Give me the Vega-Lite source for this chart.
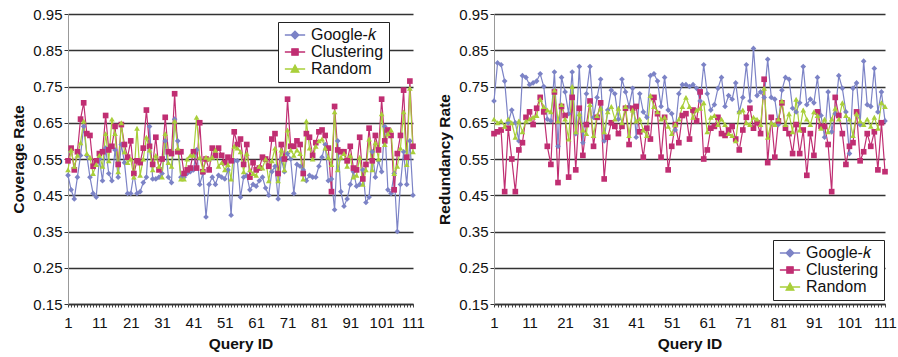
{
"$schema": "https://vega.github.io/schema/vega-lite/v6.json",
"background": "white",
"padding": {"left": 11, "top": 7, "right": 2, "bottom": 3},
"spacing": 12,
"resolve": {"scale": {"color": "independent"}, "legend": {"color": "independent"}},
"config": {
  "view": {"stroke": null},
  "font": "Liberation Sans",
  "axis": {"labelFont": "Liberation Sans", "labelFontSize": 15, "labelColor": "#111", "titleFont": "Liberation Sans", "titleFontSize": 15.5, "titleFontWeight": "bold", "titleColor": "#111"},
  "axisX": {"grid": false, "tickSize": 3, "tickColor": "#444", "domainColor": "#333", "domainWidth": 1.5, "labelPadding": 8, "titlePadding": 6, "labelAngle": 0, "labelOverlap": false},
  "axisY": {"grid": true, "gridColor": "#333", "gridWidth": 1.4, "domainColor": "#999", "tickSize": 4, "tickColor": "#333", "labelPadding": 2, "titlePadding": 6},
  "legend": {"title": null, "orient": "none", "strokeColor": "#222", "fillColor": "white", "padding": 5, "labelFont": "Liberation Sans", "labelFontSize": 16, "labelColor": "#111", "symbolSize": 196, "symbolOffset": 4, "labelOffset": 8, "rowPadding": 1, "symbolStrokeWidth": 1.3}
},
"datasets": {
"cov": [
{"q":1,"m":"G","v":0.505},{"q":2,"m":"G","v":0.465},{"q":3,"m":"G","v":0.44},{"q":4,"m":"G","v":0.50},{"q":5,"m":"G","v":0.56},{"q":6,"m":"G","v":0.64},{"q":7,"m":"G","v":0.56},{"q":8,"m":"G","v":0.50},{"q":9,"m":"G","v":0.455},{"q":10,"m":"G","v":0.445},
{"q":11,"m":"G","v":0.55},{"q":12,"m":"G","v":0.49},{"q":13,"m":"G","v":0.58},{"q":14,"m":"G","v":0.51},{"q":15,"m":"G","v":0.49},{"q":16,"m":"G","v":0.575},{"q":17,"m":"G","v":0.50},{"q":18,"m":"G","v":0.59},{"q":19,"m":"G","v":0.54},{"q":20,"m":"G","v":0.455},
{"q":21,"m":"G","v":0.455},{"q":22,"m":"G","v":0.51},{"q":23,"m":"G","v":0.455},{"q":24,"m":"G","v":0.46},{"q":25,"m":"G","v":0.485},{"q":26,"m":"G","v":0.50},{"q":27,"m":"G","v":0.64},{"q":28,"m":"G","v":0.495},{"q":29,"m":"G","v":0.495},{"q":30,"m":"G","v":0.50},
{"q":31,"m":"G","v":0.51},{"q":32,"m":"G","v":0.60},{"q":33,"m":"G","v":0.50},{"q":34,"m":"G","v":0.485},{"q":35,"m":"G","v":0.66},{"q":36,"m":"G","v":0.60},{"q":37,"m":"G","v":0.50},{"q":38,"m":"G","v":0.50},{"q":39,"m":"G","v":0.51},{"q":40,"m":"G","v":0.515},
{"q":41,"m":"G","v":0.52},{"q":42,"m":"G","v":0.575},{"q":43,"m":"G","v":0.48},{"q":44,"m":"G","v":0.51},{"q":45,"m":"G","v":0.39},{"q":46,"m":"G","v":0.48},{"q":47,"m":"G","v":0.50},{"q":48,"m":"G","v":0.48},{"q":49,"m":"G","v":0.505},{"q":50,"m":"G","v":0.50},
{"q":51,"m":"G","v":0.495},{"q":52,"m":"G","v":0.52},{"q":53,"m":"G","v":0.395},{"q":54,"m":"G","v":0.545},{"q":55,"m":"G","v":0.545},{"q":56,"m":"G","v":0.445},{"q":57,"m":"G","v":0.50},{"q":58,"m":"G","v":0.505},{"q":59,"m":"G","v":0.465},{"q":60,"m":"G","v":0.48},
{"q":61,"m":"G","v":0.475},{"q":62,"m":"G","v":0.49},{"q":63,"m":"G","v":0.50},{"q":64,"m":"G","v":0.47},{"q":65,"m":"G","v":0.45},{"q":66,"m":"G","v":0.515},{"q":67,"m":"G","v":0.53},{"q":68,"m":"G","v":0.44},{"q":69,"m":"G","v":0.55},{"q":70,"m":"G","v":0.515},
{"q":71,"m":"G","v":0.565},{"q":72,"m":"G","v":0.55},{"q":73,"m":"G","v":0.455},{"q":74,"m":"G","v":0.535},{"q":75,"m":"G","v":0.53},{"q":76,"m":"G","v":0.52},{"q":77,"m":"G","v":0.49},{"q":78,"m":"G","v":0.505},{"q":79,"m":"G","v":0.50},{"q":80,"m":"G","v":0.50},
{"q":81,"m":"G","v":0.53},{"q":82,"m":"G","v":0.555},{"q":83,"m":"G","v":0.59},{"q":84,"m":"G","v":0.49},{"q":85,"m":"G","v":0.495},{"q":86,"m":"G","v":0.41},{"q":87,"m":"G","v":0.60},{"q":88,"m":"G","v":0.46},{"q":89,"m":"G","v":0.42},{"q":90,"m":"G","v":0.44},
{"q":91,"m":"G","v":0.48},{"q":92,"m":"G","v":0.515},{"q":93,"m":"G","v":0.475},{"q":94,"m":"G","v":0.48},{"q":95,"m":"G","v":0.52},{"q":96,"m":"G","v":0.43},{"q":97,"m":"G","v":0.445},{"q":98,"m":"G","v":0.57},{"q":99,"m":"G","v":0.50},{"q":100,"m":"G","v":0.545},
{"q":101,"m":"G","v":0.515},{"q":102,"m":"G","v":0.64},{"q":103,"m":"G","v":0.465},{"q":104,"m":"G","v":0.455},{"q":105,"m":"G","v":0.51},{"q":106,"m":"G","v":0.35},{"q":107,"m":"G","v":0.48},{"q":108,"m":"G","v":0.57},{"q":109,"m":"G","v":0.48},{"q":110,"m":"G","v":0.60},{"q":111,"m":"G","v":0.45},
{"q":1,"m":"C","v":0.545},{"q":2,"m":"C","v":0.58},{"q":3,"m":"C","v":0.52},{"q":4,"m":"C","v":0.57},{"q":5,"m":"C","v":0.66},{"q":6,"m":"C","v":0.705},{"q":7,"m":"C","v":0.62},{"q":8,"m":"C","v":0.615},{"q":9,"m":"C","v":0.53},{"q":10,"m":"C","v":0.545},
{"q":11,"m":"C","v":0.565},{"q":12,"m":"C","v":0.57},{"q":13,"m":"C","v":0.67},{"q":14,"m":"C","v":0.575},{"q":15,"m":"C","v":0.585},{"q":16,"m":"C","v":0.64},{"q":17,"m":"C","v":0.535},{"q":18,"m":"C","v":0.645},{"q":19,"m":"C","v":0.59},{"q":20,"m":"C","v":0.555},
{"q":21,"m":"C","v":0.60},{"q":22,"m":"C","v":0.51},{"q":23,"m":"C","v":0.545},{"q":24,"m":"C","v":0.54},{"q":25,"m":"C","v":0.58},{"q":26,"m":"C","v":0.685},{"q":27,"m":"C","v":0.585},{"q":28,"m":"C","v":0.535},{"q":29,"m":"C","v":0.61},{"q":30,"m":"C","v":0.52},
{"q":31,"m":"C","v":0.55},{"q":32,"m":"C","v":0.665},{"q":33,"m":"C","v":0.57},{"q":34,"m":"C","v":0.565},{"q":35,"m":"C","v":0.73},{"q":36,"m":"C","v":0.57},{"q":37,"m":"C","v":0.57},{"q":38,"m":"C","v":0.51},{"q":39,"m":"C","v":0.52},{"q":40,"m":"C","v":0.525},
{"q":41,"m":"C","v":0.57},{"q":42,"m":"C","v":0.525},{"q":43,"m":"C","v":0.65},{"q":44,"m":"C","v":0.515},{"q":45,"m":"C","v":0.55},{"q":46,"m":"C","v":0.52},{"q":47,"m":"C","v":0.58},{"q":48,"m":"C","v":0.56},{"q":49,"m":"C","v":0.58},{"q":50,"m":"C","v":0.56},
{"q":51,"m":"C","v":0.54},{"q":52,"m":"C","v":0.555},{"q":53,"m":"C","v":0.545},{"q":54,"m":"C","v":0.625},{"q":55,"m":"C","v":0.59},{"q":56,"m":"C","v":0.605},{"q":57,"m":"C","v":0.535},{"q":58,"m":"C","v":0.59},{"q":59,"m":"C","v":0.50},{"q":60,"m":"C","v":0.54},
{"q":61,"m":"C","v":0.52},{"q":62,"m":"C","v":0.525},{"q":63,"m":"C","v":0.555},{"q":64,"m":"C","v":0.55},{"q":65,"m":"C","v":0.53},{"q":66,"m":"C","v":0.605},{"q":67,"m":"C","v":0.62},{"q":68,"m":"C","v":0.51},{"q":69,"m":"C","v":0.59},{"q":70,"m":"C","v":0.55},
{"q":71,"m":"C","v":0.715},{"q":72,"m":"C","v":0.585},{"q":73,"m":"C","v":0.585},{"q":74,"m":"C","v":0.60},{"q":75,"m":"C","v":0.59},{"q":76,"m":"C","v":0.51},{"q":77,"m":"C","v":0.62},{"q":78,"m":"C","v":0.61},{"q":79,"m":"C","v":0.56},{"q":80,"m":"C","v":0.595},
{"q":81,"m":"C","v":0.625},{"q":82,"m":"C","v":0.63},{"q":83,"m":"C","v":0.615},{"q":84,"m":"C","v":0.58},{"q":85,"m":"C","v":0.46},{"q":86,"m":"C","v":0.695},{"q":87,"m":"C","v":0.575},{"q":88,"m":"C","v":0.57},{"q":89,"m":"C","v":0.57},{"q":90,"m":"C","v":0.545},
{"q":91,"m":"C","v":0.585},{"q":92,"m":"C","v":0.525},{"q":93,"m":"C","v":0.52},{"q":94,"m":"C","v":0.61},{"q":95,"m":"C","v":0.495},{"q":96,"m":"C","v":0.535},{"q":97,"m":"C","v":0.635},{"q":98,"m":"C","v":0.545},{"q":99,"m":"C","v":0.615},{"q":100,"m":"C","v":0.575},
{"q":101,"m":"C","v":0.715},{"q":102,"m":"C","v":0.60},{"q":103,"m":"C","v":0.63},{"q":104,"m":"C","v":0.615},{"q":105,"m":"C","v":0.465},{"q":106,"m":"C","v":0.565},{"q":107,"m":"C","v":0.615},{"q":108,"m":"C","v":0.74},{"q":109,"m":"C","v":0.555},{"q":110,"m":"C","v":0.765},{"q":111,"m":"C","v":0.585},
{"q":1,"m":"R","v":0.52},{"q":2,"m":"R","v":0.575},{"q":3,"m":"R","v":0.53},{"q":4,"m":"R","v":0.56},{"q":5,"m":"R","v":0.595},{"q":6,"m":"R","v":0.655},{"q":7,"m":"R","v":0.565},{"q":8,"m":"R","v":0.555},{"q":9,"m":"R","v":0.51},{"q":10,"m":"R","v":0.535},
{"q":11,"m":"R","v":0.56},{"q":12,"m":"R","v":0.53},{"q":13,"m":"R","v":0.62},{"q":14,"m":"R","v":0.545},{"q":15,"m":"R","v":0.66},{"q":16,"m":"R","v":0.62},{"q":17,"m":"R","v":0.515},{"q":18,"m":"R","v":0.65},{"q":19,"m":"R","v":0.57},{"q":20,"m":"R","v":0.54},
{"q":21,"m":"R","v":0.55},{"q":22,"m":"R","v":0.50},{"q":23,"m":"R","v":0.635},{"q":24,"m":"R","v":0.505},{"q":25,"m":"R","v":0.55},{"q":26,"m":"R","v":0.61},{"q":27,"m":"R","v":0.575},{"q":28,"m":"R","v":0.52},{"q":29,"m":"R","v":0.56},{"q":30,"m":"R","v":0.53},
{"q":31,"m":"R","v":0.50},{"q":32,"m":"R","v":0.62},{"q":33,"m":"R","v":0.54},{"q":34,"m":"R","v":0.53},{"q":35,"m":"R","v":0.655},{"q":36,"m":"R","v":0.58},{"q":37,"m":"R","v":0.495},{"q":38,"m":"R","v":0.495},{"q":39,"m":"R","v":0.55},{"q":40,"m":"R","v":0.56},
{"q":41,"m":"R","v":0.56},{"q":42,"m":"R","v":0.665},{"q":43,"m":"R","v":0.555},{"q":44,"m":"R","v":0.52},{"q":45,"m":"R","v":0.555},{"q":46,"m":"R","v":0.55},{"q":47,"m":"R","v":0.555},{"q":48,"m":"R","v":0.575},{"q":49,"m":"R","v":0.53},{"q":50,"m":"R","v":0.54},
{"q":51,"m":"R","v":0.52},{"q":52,"m":"R","v":0.535},{"q":53,"m":"R","v":0.495},{"q":54,"m":"R","v":0.585},{"q":55,"m":"R","v":0.58},{"q":56,"m":"R","v":0.57},{"q":57,"m":"R","v":0.515},{"q":58,"m":"R","v":0.565},{"q":59,"m":"R","v":0.52},{"q":60,"m":"R","v":0.51},
{"q":61,"m":"R","v":0.505},{"q":62,"m":"R","v":0.53},{"q":63,"m":"R","v":0.525},{"q":64,"m":"R","v":0.55},{"q":65,"m":"R","v":0.49},{"q":66,"m":"R","v":0.545},{"q":67,"m":"R","v":0.58},{"q":68,"m":"R","v":0.49},{"q":69,"m":"R","v":0.575},{"q":70,"m":"R","v":0.52},
{"q":71,"m":"R","v":0.63},{"q":72,"m":"R","v":0.575},{"q":73,"m":"R","v":0.56},{"q":74,"m":"R","v":0.575},{"q":75,"m":"R","v":0.565},{"q":76,"m":"R","v":0.495},{"q":77,"m":"R","v":0.655},{"q":78,"m":"R","v":0.58},{"q":79,"m":"R","v":0.55},{"q":80,"m":"R","v":0.585},
{"q":81,"m":"R","v":0.60},{"q":82,"m":"R","v":0.605},{"q":83,"m":"R","v":0.58},{"q":84,"m":"R","v":0.555},{"q":85,"m":"R","v":0.535},{"q":86,"m":"R","v":0.68},{"q":87,"m":"R","v":0.52},{"q":88,"m":"R","v":0.555},{"q":89,"m":"R","v":0.565},{"q":90,"m":"R","v":0.53},
{"q":91,"m":"R","v":0.56},{"q":92,"m":"R","v":0.50},{"q":93,"m":"R","v":0.505},{"q":94,"m":"R","v":0.555},{"q":95,"m":"R","v":0.48},{"q":96,"m":"R","v":0.52},{"q":97,"m":"R","v":0.605},{"q":98,"m":"R","v":0.52},{"q":99,"m":"R","v":0.595},{"q":100,"m":"R","v":0.55},
{"q":101,"m":"R","v":0.675},{"q":102,"m":"R","v":0.59},{"q":103,"m":"R","v":0.62},{"q":104,"m":"R","v":0.63},{"q":105,"m":"R","v":0.51},{"q":106,"m":"R","v":0.53},{"q":107,"m":"R","v":0.58},{"q":108,"m":"R","v":0.68},{"q":109,"m":"R","v":0.535},{"q":110,"m":"R","v":0.745},{"q":111,"m":"R","v":0.57}
],
"red": [
{"q":1,"m":"G","v":0.71},{"q":2,"m":"G","v":0.815},{"q":3,"m":"G","v":0.81},{"q":4,"m":"G","v":0.765},{"q":5,"m":"G","v":0.65},{"q":6,"m":"G","v":0.685},{"q":7,"m":"G","v":0.65},{"q":8,"m":"G","v":0.60},{"q":9,"m":"G","v":0.78},{"q":10,"m":"G","v":0.775},
{"q":11,"m":"G","v":0.755},{"q":12,"m":"G","v":0.76},{"q":13,"m":"G","v":0.765},{"q":14,"m":"G","v":0.785},{"q":15,"m":"G","v":0.75},{"q":16,"m":"G","v":0.66},{"q":17,"m":"G","v":0.655},{"q":18,"m":"G","v":0.79},{"q":19,"m":"G","v":0.585},{"q":20,"m":"G","v":0.775},
{"q":21,"m":"G","v":0.735},{"q":22,"m":"G","v":0.675},{"q":23,"m":"G","v":0.79},{"q":24,"m":"G","v":0.62},{"q":25,"m":"G","v":0.805},{"q":26,"m":"G","v":0.595},{"q":27,"m":"G","v":0.73},{"q":28,"m":"G","v":0.805},{"q":29,"m":"G","v":0.665},{"q":30,"m":"G","v":0.72},
{"q":31,"m":"G","v":0.77},{"q":32,"m":"G","v":0.60},{"q":33,"m":"G","v":0.685},{"q":34,"m":"G","v":0.74},{"q":35,"m":"G","v":0.73},{"q":36,"m":"G","v":0.66},{"q":37,"m":"G","v":0.77},{"q":38,"m":"G","v":0.735},{"q":39,"m":"G","v":0.695},{"q":40,"m":"G","v":0.745},
{"q":41,"m":"G","v":0.61},{"q":42,"m":"G","v":0.73},{"q":43,"m":"G","v":0.68},{"q":44,"m":"G","v":0.665},{"q":45,"m":"G","v":0.78},{"q":46,"m":"G","v":0.785},{"q":47,"m":"G","v":0.765},{"q":48,"m":"G","v":0.695},{"q":49,"m":"G","v":0.775},{"q":50,"m":"G","v":0.685},
{"q":51,"m":"G","v":0.675},{"q":52,"m":"G","v":0.63},{"q":53,"m":"G","v":0.73},{"q":54,"m":"G","v":0.755},{"q":55,"m":"G","v":0.755},{"q":56,"m":"G","v":0.75},{"q":57,"m":"G","v":0.755},{"q":58,"m":"G","v":0.745},{"q":59,"m":"G","v":0.71},{"q":60,"m":"G","v":0.81},
{"q":61,"m":"G","v":0.73},{"q":62,"m":"G","v":0.685},{"q":63,"m":"G","v":0.70},{"q":64,"m":"G","v":0.745},{"q":65,"m":"G","v":0.775},{"q":66,"m":"G","v":0.695},{"q":67,"m":"G","v":0.725},{"q":68,"m":"G","v":0.715},{"q":69,"m":"G","v":0.76},{"q":70,"m":"G","v":0.68},
{"q":71,"m":"G","v":0.72},{"q":72,"m":"G","v":0.81},{"q":73,"m":"G","v":0.71},{"q":74,"m":"G","v":0.855},{"q":75,"m":"G","v":0.725},{"q":76,"m":"G","v":0.735},{"q":77,"m":"G","v":0.72},{"q":78,"m":"G","v":0.825},{"q":79,"m":"G","v":0.72},{"q":80,"m":"G","v":0.715},
{"q":81,"m":"G","v":0.645},{"q":82,"m":"G","v":0.74},{"q":83,"m":"G","v":0.775},{"q":84,"m":"G","v":0.77},{"q":85,"m":"G","v":0.69},{"q":86,"m":"G","v":0.68},{"q":87,"m":"G","v":0.705},{"q":88,"m":"G","v":0.805},{"q":89,"m":"G","v":0.70},{"q":90,"m":"G","v":0.715},
{"q":91,"m":"G","v":0.705},{"q":92,"m":"G","v":0.775},{"q":93,"m":"G","v":0.67},{"q":94,"m":"G","v":0.61},{"q":95,"m":"G","v":0.735},{"q":96,"m":"G","v":0.625},{"q":97,"m":"G","v":0.675},{"q":98,"m":"G","v":0.78},{"q":99,"m":"G","v":0.745},{"q":100,"m":"G","v":0.68},
{"q":101,"m":"G","v":0.565},{"q":102,"m":"G","v":0.745},{"q":103,"m":"G","v":0.76},{"q":104,"m":"G","v":0.645},{"q":105,"m":"G","v":0.82},{"q":106,"m":"G","v":0.70},{"q":107,"m":"G","v":0.695},{"q":108,"m":"G","v":0.80},{"q":109,"m":"G","v":0.68},{"q":110,"m":"G","v":0.735},{"q":111,"m":"G","v":0.655},
{"q":1,"m":"C","v":0.62},{"q":2,"m":"C","v":0.625},{"q":3,"m":"C","v":0.63},{"q":4,"m":"C","v":0.46},{"q":5,"m":"C","v":0.635},{"q":6,"m":"C","v":0.55},{"q":7,"m":"C","v":0.46},{"q":8,"m":"C","v":0.575},{"q":9,"m":"C","v":0.595},{"q":10,"m":"C","v":0.665},
{"q":11,"m":"C","v":0.68},{"q":12,"m":"C","v":0.645},{"q":13,"m":"C","v":0.69},{"q":14,"m":"C","v":0.72},{"q":15,"m":"C","v":0.68},{"q":16,"m":"C","v":0.585},{"q":17,"m":"C","v":0.535},{"q":18,"m":"C","v":0.735},{"q":19,"m":"C","v":0.485},{"q":20,"m":"C","v":0.695},
{"q":21,"m":"C","v":0.67},{"q":22,"m":"C","v":0.50},{"q":23,"m":"C","v":0.72},{"q":24,"m":"C","v":0.52},{"q":25,"m":"C","v":0.69},{"q":26,"m":"C","v":0.56},{"q":27,"m":"C","v":0.645},{"q":28,"m":"C","v":0.71},{"q":29,"m":"C","v":0.585},{"q":30,"m":"C","v":0.665},
{"q":31,"m":"C","v":0.705},{"q":32,"m":"C","v":0.495},{"q":33,"m":"C","v":0.61},{"q":34,"m":"C","v":0.65},{"q":35,"m":"C","v":0.64},{"q":36,"m":"C","v":0.62},{"q":37,"m":"C","v":0.64},{"q":38,"m":"C","v":0.69},{"q":39,"m":"C","v":0.59},{"q":40,"m":"C","v":0.69},
{"q":41,"m":"C","v":0.695},{"q":42,"m":"C","v":0.625},{"q":43,"m":"C","v":0.555},{"q":44,"m":"C","v":0.635},{"q":45,"m":"C","v":0.605},{"q":46,"m":"C","v":0.72},{"q":47,"m":"C","v":0.675},{"q":48,"m":"C","v":0.555},{"q":49,"m":"C","v":0.665},{"q":50,"m":"C","v":0.52},
{"q":51,"m":"C","v":0.585},{"q":52,"m":"C","v":0.645},{"q":53,"m":"C","v":0.595},{"q":54,"m":"C","v":0.67},{"q":55,"m":"C","v":0.675},{"q":56,"m":"C","v":0.605},{"q":57,"m":"C","v":0.685},{"q":58,"m":"C","v":0.655},{"q":59,"m":"C","v":0.735},{"q":60,"m":"C","v":0.55},
{"q":61,"m":"C","v":0.575},{"q":62,"m":"C","v":0.635},{"q":63,"m":"C","v":0.64},{"q":64,"m":"C","v":0.665},{"q":65,"m":"C","v":0.62},{"q":66,"m":"C","v":0.615},{"q":67,"m":"C","v":0.63},{"q":68,"m":"C","v":0.64},{"q":69,"m":"C","v":0.605},{"q":70,"m":"C","v":0.575},
{"q":71,"m":"C","v":0.63},{"q":72,"m":"C","v":0.665},{"q":73,"m":"C","v":0.69},{"q":74,"m":"C","v":0.635},{"q":75,"m":"C","v":0.65},{"q":76,"m":"C","v":0.62},{"q":77,"m":"C","v":0.77},{"q":78,"m":"C","v":0.54},{"q":79,"m":"C","v":0.665},{"q":80,"m":"C","v":0.555},
{"q":81,"m":"C","v":0.655},{"q":82,"m":"C","v":0.705},{"q":83,"m":"C","v":0.635},{"q":84,"m":"C","v":0.62},{"q":85,"m":"C","v":0.565},{"q":86,"m":"C","v":0.645},{"q":87,"m":"C","v":0.565},{"q":88,"m":"C","v":0.63},{"q":89,"m":"C","v":0.505},{"q":90,"m":"C","v":0.62},
{"q":91,"m":"C","v":0.56},{"q":92,"m":"C","v":0.68},{"q":93,"m":"C","v":0.64},{"q":94,"m":"C","v":0.64},{"q":95,"m":"C","v":0.59},{"q":96,"m":"C","v":0.46},{"q":97,"m":"C","v":0.72},{"q":98,"m":"C","v":0.67},{"q":99,"m":"C","v":0.62},{"q":100,"m":"C","v":0.535},
{"q":101,"m":"C","v":0.585},{"q":102,"m":"C","v":0.595},{"q":103,"m":"C","v":0.68},{"q":104,"m":"C","v":0.545},{"q":105,"m":"C","v":0.57},{"q":106,"m":"C","v":0.62},{"q":107,"m":"C","v":0.585},{"q":108,"m":"C","v":0.625},{"q":109,"m":"C","v":0.52},{"q":110,"m":"C","v":0.65},{"q":111,"m":"C","v":0.515},
{"q":1,"m":"R","v":0.66},{"q":2,"m":"R","v":0.65},{"q":3,"m":"R","v":0.655},{"q":4,"m":"R","v":0.64},{"q":5,"m":"R","v":0.66},{"q":6,"m":"R","v":0.65},{"q":7,"m":"R","v":0.61},{"q":8,"m":"R","v":0.655},{"q":9,"m":"R","v":0.625},{"q":10,"m":"R","v":0.655},
{"q":11,"m":"R","v":0.66},{"q":12,"m":"R","v":0.665},{"q":13,"m":"R","v":0.67},{"q":14,"m":"R","v":0.715},{"q":15,"m":"R","v":0.695},{"q":16,"m":"R","v":0.685},{"q":17,"m":"R","v":0.68},{"q":18,"m":"R","v":0.74},{"q":19,"m":"R","v":0.655},{"q":20,"m":"R","v":0.70},
{"q":21,"m":"R","v":0.66},{"q":22,"m":"R","v":0.605},{"q":23,"m":"R","v":0.75},{"q":24,"m":"R","v":0.625},{"q":25,"m":"R","v":0.675},{"q":26,"m":"R","v":0.63},{"q":27,"m":"R","v":0.62},{"q":28,"m":"R","v":0.70},{"q":29,"m":"R","v":0.615},{"q":30,"m":"R","v":0.67},
{"q":31,"m":"R","v":0.69},{"q":32,"m":"R","v":0.625},{"q":33,"m":"R","v":0.68},{"q":34,"m":"R","v":0.695},{"q":35,"m":"R","v":0.66},{"q":36,"m":"R","v":0.69},{"q":37,"m":"R","v":0.65},{"q":38,"m":"R","v":0.695},{"q":39,"m":"R","v":0.615},{"q":40,"m":"R","v":0.685},
{"q":41,"m":"R","v":0.655},{"q":42,"m":"R","v":0.66},{"q":43,"m":"R","v":0.63},{"q":44,"m":"R","v":0.615},{"q":45,"m":"R","v":0.725},{"q":46,"m":"R","v":0.695},{"q":47,"m":"R","v":0.68},{"q":48,"m":"R","v":0.66},{"q":49,"m":"R","v":0.665},{"q":50,"m":"R","v":0.64},
{"q":51,"m":"R","v":0.62},{"q":52,"m":"R","v":0.645},{"q":53,"m":"R","v":0.66},{"q":54,"m":"R","v":0.695},{"q":55,"m":"R","v":0.72},{"q":56,"m":"R","v":0.695},{"q":57,"m":"R","v":0.665},{"q":58,"m":"R","v":0.685},{"q":59,"m":"R","v":0.69},{"q":60,"m":"R","v":0.705},
{"q":61,"m":"R","v":0.625},{"q":62,"m":"R","v":0.665},{"q":63,"m":"R","v":0.67},{"q":64,"m":"R","v":0.645},{"q":65,"m":"R","v":0.66},{"q":66,"m":"R","v":0.645},{"q":67,"m":"R","v":0.62},{"q":68,"m":"R","v":0.615},{"q":69,"m":"R","v":0.60},{"q":70,"m":"R","v":0.68},
{"q":71,"m":"R","v":0.685},{"q":72,"m":"R","v":0.65},{"q":73,"m":"R","v":0.645},{"q":74,"m":"R","v":0.665},{"q":75,"m":"R","v":0.66},{"q":76,"m":"R","v":0.645},{"q":77,"m":"R","v":0.745},{"q":78,"m":"R","v":0.61},{"q":79,"m":"R","v":0.65},{"q":80,"m":"R","v":0.645},
{"q":81,"m":"R","v":0.66},{"q":82,"m":"R","v":0.71},{"q":83,"m":"R","v":0.645},{"q":84,"m":"R","v":0.675},{"q":85,"m":"R","v":0.625},{"q":86,"m":"R","v":0.715},{"q":87,"m":"R","v":0.63},{"q":88,"m":"R","v":0.685},{"q":89,"m":"R","v":0.66},{"q":90,"m":"R","v":0.645},
{"q":91,"m":"R","v":0.68},{"q":92,"m":"R","v":0.67},{"q":93,"m":"R","v":0.635},{"q":94,"m":"R","v":0.66},{"q":95,"m":"R","v":0.625},{"q":96,"m":"R","v":0.66},{"q":97,"m":"R","v":0.69},{"q":98,"m":"R","v":0.66},{"q":99,"m":"R","v":0.705},{"q":100,"m":"R","v":0.67},
{"q":101,"m":"R","v":0.66},{"q":102,"m":"R","v":0.615},{"q":103,"m":"R","v":0.675},{"q":104,"m":"R","v":0.655},{"q":105,"m":"R","v":0.645},{"q":106,"m":"R","v":0.66},{"q":107,"m":"R","v":0.64},{"q":108,"m":"R","v":0.665},{"q":109,"m":"R","v":0.635},{"q":110,"m":"R","v":0.705},{"q":111,"m":"R","v":0.695}
]
},
"hconcat": [
{
  "width": 345, "height": 290,
  "data": {"name": "cov"},
  "encoding": {
    "x": {"field": "q", "type": "ordinal", "scale": {"type": "point", "padding": 0}, "axis": {"title": "Query ID", "labelExpr": "(datum.value-1)%10==0 ? datum.label : ''"}},
    "y": {"field": "v", "type": "quantitative", "scale": {"domain": [0.15, 0.95], "nice": false, "zero": false}, "axis": {"title": "Coverage Rate", "values": [0.15,0.25,0.35,0.45,0.55,0.65,0.75,0.85,0.95], "format": ".2f"}},
    "color": {"field": "m", "type": "nominal", "scale": {"domain": ["G","C","R"], "range": ["#7C83C6","#C02E72","#A9CF3A"]},
      "legend": {"legendX": 210, "legendY": 8, "labelExpr": "datum.value=='G' ? 'Google-𝑘' : datum.value=='C' ? 'Clustering' : 'Random'",
        "encode": {"symbols": {"update": {"size": {"value": 196}, "shape": {"signal": "datum.value=='G' ? 'M-1.45,0H1.45M0,-0.55L0.55,0L0,0.55L-0.55,0Z' : datum.value=='C' ? 'M-1.45,0H1.45M-0.45,-0.45H0.45V0.45H-0.45Z' : 'M-1.45,0H1.45M0,-0.55L0.55,0.45H-0.55Z'"}, "fill": {"signal": "datum.value=='G' ? '#7C83C6' : datum.value=='C' ? '#C02E72' : '#A9CF3A'"}, "stroke": {"signal": "datum.value=='G' ? '#7C83C6' : datum.value=='C' ? '#C02E72' : '#A9CF3A'"}, "strokeWidth": {"value": 1.3}, "opacity": {"value": 1}}}}}}
  },
  "layer": [
    {"mark": {"type": "line", "strokeWidth": 1.2}},
    {"mark": {"type": "point", "filled": true, "opacity": 1, "size": 32},
     "encoding": {
       "shape": {"condition": [{"test": "datum.m=='G'", "value": "diamond"}, {"test": "datum.m=='C'", "value": "square"}], "value": "triangle-up"}
     }}
  ]
},
{
  "width": 391, "height": 290,
  "data": {"name": "red"},
  "encoding": {
    "x": {"field": "q", "type": "ordinal", "scale": {"type": "point", "padding": 0}, "axis": {"title": "Query ID", "labelExpr": "(datum.value-1)%10==0 ? datum.label : ''"}},
    "y": {"field": "v", "type": "quantitative", "scale": {"domain": [0.15, 0.95], "nice": false, "zero": false}, "axis": {"title": "Redundancy Rate", "values": [0.15,0.25,0.35,0.45,0.55,0.65,0.75,0.85,0.95], "format": ".2f"}},
    "color": {"field": "m", "type": "nominal", "scale": {"domain": ["G","C","R"], "range": ["#7C83C6","#C02E72","#A9CF3A"]},
      "legend": {"legendX": 279, "legendY": 226, "labelExpr": "datum.value=='G' ? 'Google-𝑘' : datum.value=='C' ? 'Clustering' : 'Random'",
        "encode": {"symbols": {"update": {"size": {"value": 196}, "shape": {"signal": "datum.value=='G' ? 'M-1.45,0H1.45M0,-0.55L0.55,0L0,0.55L-0.55,0Z' : datum.value=='C' ? 'M-1.45,0H1.45M-0.45,-0.45H0.45V0.45H-0.45Z' : 'M-1.45,0H1.45M0,-0.55L0.55,0.45H-0.55Z'"}, "fill": {"signal": "datum.value=='G' ? '#7C83C6' : datum.value=='C' ? '#C02E72' : '#A9CF3A'"}, "stroke": {"signal": "datum.value=='G' ? '#7C83C6' : datum.value=='C' ? '#C02E72' : '#A9CF3A'"}, "strokeWidth": {"value": 1.3}, "opacity": {"value": 1}}}}}}
  },
  "layer": [
    {"mark": {"type": "line", "strokeWidth": 1.2}},
    {"mark": {"type": "point", "filled": true, "opacity": 1, "size": 32},
     "encoding": {
       "shape": {"condition": [{"test": "datum.m=='G'", "value": "diamond"}, {"test": "datum.m=='C'", "value": "square"}], "value": "triangle-up"}
     }}
  ]
}
]
}
